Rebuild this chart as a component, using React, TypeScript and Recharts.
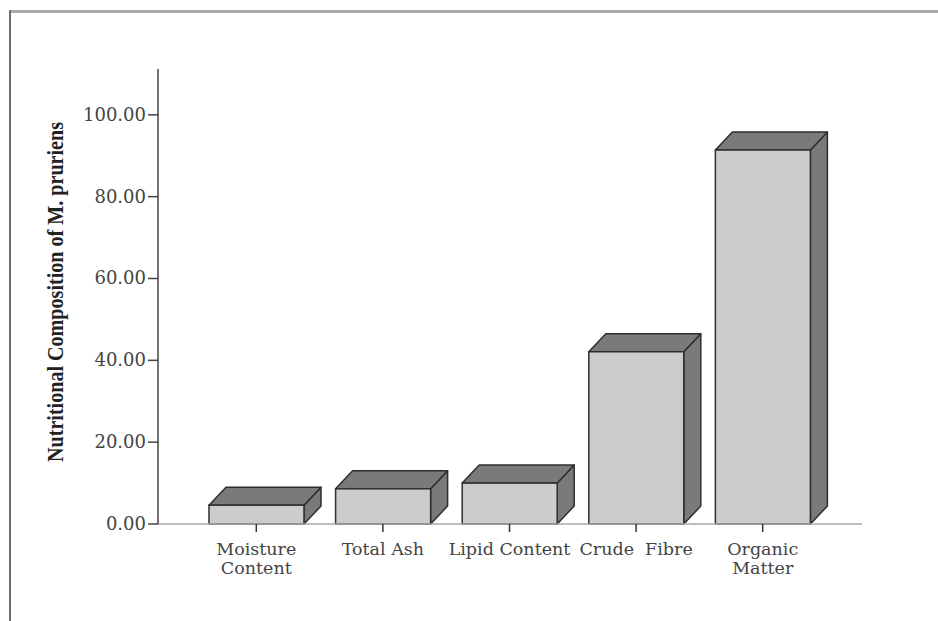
import React from 'react';
import { BarChart, Bar, XAxis, YAxis } from 'recharts';

const categories = ['Moisture\nContent', 'Total Ash', 'Lipid Content', 'Crude  Fibre', 'Organic\nMatter'];
const values = [4.6, 8.6, 10.0, 42.1, 91.4];
const yTicks = [0, 20, 40, 60, 80, 100];

const data = categories.map((name, i) => ({ name, value: values[i] }));

const DX = 17;
const DY = 18;
const EDGE = '#2e2e2e';

function Box3D(props: any) {
  const { x, y, width, height } = props;
  if (height == null || width == null) return null;
  const top = `${x},${y} ${x + DX},${y - DY} ${x + width + DX},${y - DY} ${x + width},${y}`;
  const side = `${x + width},${y} ${x + width + DX},${y - DY} ${x + width + DX},${y + height - DY} ${x + width},${y + height}`;
  return (
    <g>
      <polygon points={side} fill="#7a7a7a" stroke={EDGE} strokeWidth={1.5} strokeLinejoin="round" />
      <polygon points={top} fill="#7a7a7a" stroke={EDGE} strokeWidth={1.5} strokeLinejoin="round" />
      <rect x={x} y={y} width={width} height={height} fill="#cccccc" stroke={EDGE} strokeWidth={1.5} />
    </g>
  );
}

function CategoryTick(props: any) {
  const { x, y, payload } = props;
  const lines = String(payload.value).split('\n');
  return (
    <text
      x={x}
      y={y}
      textAnchor="middle"
      fontFamily="'DejaVu Serif', serif"
      fontSize={17.5}
      fill="#444"
      style={{ whiteSpace: 'pre' }}
    >
      {lines.map((line, i) => (
        <tspan key={i} x={x} dy={i === 0 ? 21 : 19}>
          {line}
        </tspan>
      ))}
    </text>
  );
}

function ValueTick(props: any) {
  const { x, y, payload } = props;
  return (
    <text x={x} y={y} dy={6} textAnchor="end" fontFamily="'DejaVu Serif', serif" fontSize={18} fill="#444">
      {Number(payload.value).toFixed(2)}
    </text>
  );
}

function AxisTitle() {
  return (
    <text
      x={63}
      y={292}
      transform="rotate(-90, 63, 292)"
      textAnchor="middle"
      fontFamily="'Liberation Serif', 'Times New Roman', serif"
      fontWeight="bold"
      fontSize={24}
      fill="#222"
      textLength={340}
      lengthAdjust="spacingAndGlyphs"
    >
      Nutritional Composition of M. pruriens
    </text>
  );
}

export default function App() {
  return (
    <div style={{ position: 'absolute', left: 0, top: 0, width: 938, height: 621, background: '#fff' }}>
      <div style={{ position: 'absolute', left: 9, top: 10, width: 929, height: 3, background: '#a8a8a8' }} />
      <div style={{ position: 'absolute', left: 9, top: 10, width: 2, height: 611, background: '#6e6e6e' }} />
      <BarChart
        width={938}
        height={621}
        data={data}
        margin={{ top: 69, right: 76, bottom: 37, left: 0 }}
        style={{ position: 'absolute', left: 0, top: 0 }}
      >
        <XAxis
          dataKey="name"
          height={60}
          padding={{ left: 35, right: 36 }}
          axisLine={{ stroke: '#a8a8a8', strokeWidth: 1.5 }}
          tickLine={{ stroke: '#333', strokeWidth: 1.5 }}
          tickSize={8}
          tick={<CategoryTick />}
          interval={0}
        />
        <YAxis
          width={158}
          domain={[0, 111.2]}
          ticks={yTicks}
          axisLine={{ stroke: '#444', strokeWidth: 1.5 }}
          tickLine={{ stroke: '#444', strokeWidth: 1.5 }}
          tickSize={10}
          tickMargin={2}
          tick={<ValueTick />}
          label={{ content: () => <AxisTitle /> }}
        />
        <Bar dataKey="value" barSize={95} shape={<Box3D />} isAnimationActive={false} />
      </BarChart>
    </div>
  );
}
